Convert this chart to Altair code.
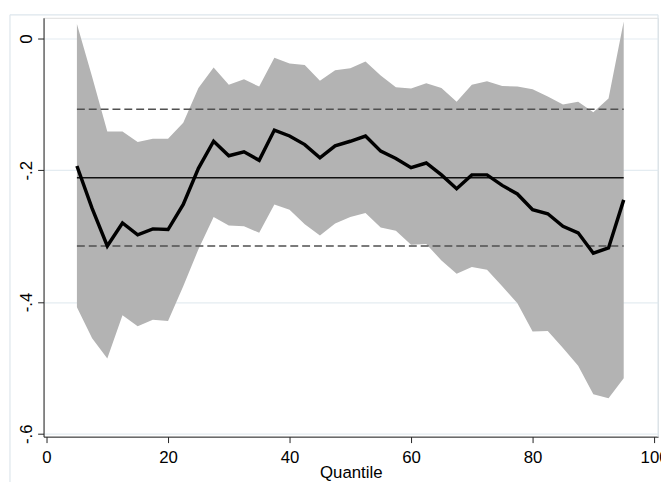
import altair as alt
import pandas as pd

quantiles = [5, 7.5, 10, 12.5, 15, 17.5, 20, 22.5, 25, 27.5, 30, 32.5, 35, 37.5,
             40, 42.5, 45, 47.5, 50, 52.5, 55, 57.5, 60, 62.5, 65, 67.5, 70, 72.5,
             75, 77.5, 80, 82.5, 85, 87.5, 90, 92.5, 95]
coef = [-0.1935, -0.258, -0.315, -0.280, -0.298, -0.289, -0.290, -0.252, -0.197,
        -0.156, -0.178, -0.172, -0.185, -0.139, -0.148, -0.161, -0.181, -0.163,
        -0.156, -0.148, -0.171, -0.182, -0.196, -0.189, -0.207, -0.228, -0.207,
        -0.207, -0.223, -0.236, -0.260, -0.266, -0.285, -0.295, -0.326, -0.318,
        -0.245]
upper = [0.022, -0.058, -0.141, -0.141, -0.157, -0.152, -0.152, -0.128, -0.075,
         -0.044, -0.070, -0.062, -0.073, -0.029, -0.038, -0.040, -0.064, -0.048,
         -0.045, -0.035, -0.056, -0.074, -0.076, -0.068, -0.075, -0.096, -0.070,
         -0.065, -0.072, -0.073, -0.077, -0.088, -0.100, -0.096, -0.112, -0.091,
         0.026]
lower = [-0.408, -0.455, -0.486, -0.420, -0.437, -0.427, -0.429, -0.376, -0.320,
         -0.271, -0.284, -0.285, -0.295, -0.252, -0.260, -0.282, -0.299, -0.281,
         -0.271, -0.265, -0.287, -0.292, -0.313, -0.312, -0.337, -0.357, -0.347,
         -0.351, -0.376, -0.402, -0.445, -0.444, -0.470, -0.497, -0.540, -0.546,
         -0.516]
ols_coef = [-0.2115]
ols_ci = [-0.1075, -0.315]
x_ticks = [0, 20, 40, 60, 80, 100]
y_ticks = [0, -0.2, -0.4, -0.6]

FONT = "Liberation Sans"
BORDER = "#dde6ec"

df = pd.DataFrame({"q": quantiles, "coef": coef, "lo": lower, "hi": upper})
ols_df = pd.DataFrame({"y": ols_coef, "x1": [quantiles[0]] * len(ols_coef),
                       "x2": [quantiles[-1]] * len(ols_coef)})
ci_df = pd.DataFrame({"y": ols_ci, "x1": [quantiles[0]] * len(ols_ci),
                      "x2": [quantiles[-1]] * len(ols_ci)})
one = pd.DataFrame({"k": [0]})

xscale = alt.Scale(domain=[-0.49, 100.65], nice=False, zero=False)
yscale = alt.Scale(domain=[-0.6045, 0.0315], nice=False, zero=False)

xaxis = alt.Axis(values=x_ticks, format="d", title="Quantile", grid=False,
                 tickSize=6, labelPadding=7, labelFontSize=17, titleFontSize=17,
                 titleFontWeight="normal", titleBaseline="alphabetic", titleY=41,
                 domainColor="#222222", tickColor="#222222", labelColor="#000000",
                 titleColor="#000000", labelFont=FONT, titleFont=FONT,
                 labelFlush=False, labelOverlap=False)
yaxis = alt.Axis(values=y_ticks,
                 labelExpr="datum.value == 0 ? '0' : '-.' + round(abs(datum.value) * 10)",
                 title=None, grid=True, gridColor="#e4ecf1", gridWidth=1.2,
                 labelAngle=270, labelAlign="center", labelBaseline="alphabetic",
                 labelPadding=6, tickSize=6, labelFontSize=17, labelFont=FONT,
                 domainColor="#222222", tickColor="#222222", labelColor="#000000",
                 labelFlush=False, labelOverlap=False)

border_top = alt.Chart(one).mark_rule(color=BORDER, strokeWidth=1.2).encode(
    x=alt.value(-34), x2=alt.value(622), y=alt.value(-3))
border_left = alt.Chart(one).mark_rule(color=BORDER, strokeWidth=1.2).encode(
    x=alt.value(-34), y=alt.value(-3), y2=alt.value(470))
border_right = alt.Chart(one).mark_rule(color=BORDER, strokeWidth=1.2).encode(
    x=alt.value(622), y=alt.value(-3), y2=alt.value(424))

band = alt.Chart(df).mark_area(color="#b3b3b3", opacity=1).encode(
    x=alt.X("q:Q", scale=xscale, axis=xaxis),
    y=alt.Y("lo:Q", scale=yscale, axis=yaxis),
    y2="hi:Q")

ols_rule = alt.Chart(ols_df).mark_rule(color="#111111", strokeWidth=1.5).encode(
    x=alt.X("x1:Q", scale=xscale), x2="x2:Q", y=alt.Y("y:Q", scale=yscale))
ci_rule = alt.Chart(ci_df).mark_rule(color="#505050", strokeWidth=1.5,
                                     strokeDash=[8, 4]).encode(
    x=alt.X("x1:Q", scale=xscale), x2="x2:Q", y=alt.Y("y:Q", scale=yscale))

line = alt.Chart(df).mark_line(color="#000000", strokeWidth=3.5).encode(
    x=alt.X("q:Q", scale=xscale),
    y=alt.Y("coef:Q", scale=yscale))

chart = alt.layer(border_top, border_left, border_right, band, ols_rule, ci_rule,
                  line).properties(
    width=622, height=424,
    autosize=alt.AutoSizeParams(type="none"),
    padding={"left": 36, "top": 7, "right": 3, "bottom": 44},
).configure_view(strokeWidth=0).configure(background="white")

chart.save("out.html", embed_options={"renderer": "svg", "actions": False})
